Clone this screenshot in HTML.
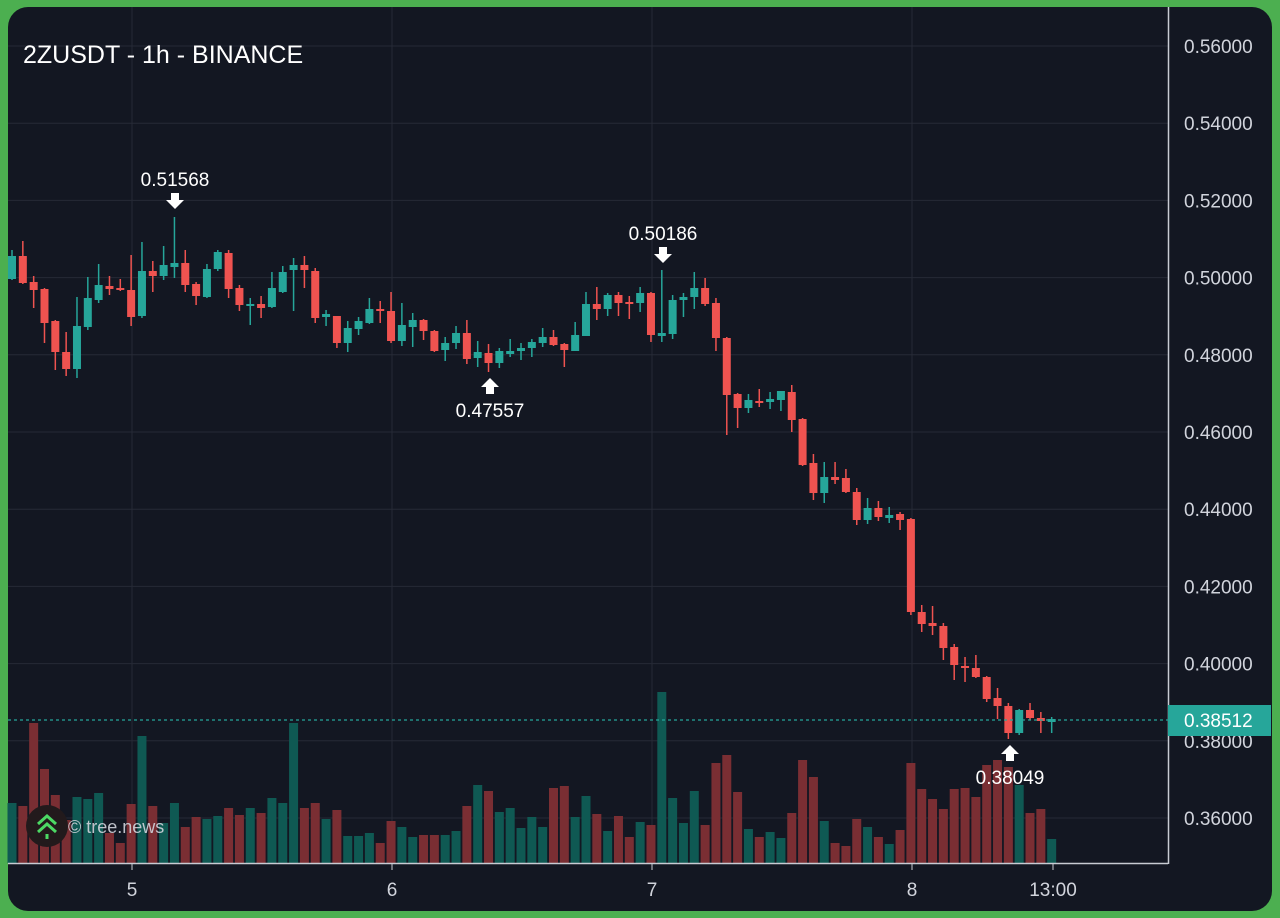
<!DOCTYPE html>
<html><head><meta charset="utf-8"><style>
html,body{margin:0;padding:0;background:#4caf50;width:1280px;height:918px;overflow:hidden}
svg{display:block}
text{font-family:"Liberation Sans",sans-serif}
</style></head><body>
<svg id="s" width="1280" height="918" xmlns="http://www.w3.org/2000/svg">
<rect x="0" y="0" width="1280" height="918" fill="#4caf50"/>
<rect x="8" y="7" width="1264" height="904" rx="20" fill="#131722"/>
<g id="grid" stroke="#262a36" stroke-width="1"></g>
<g id="vol"></g>
<g id="cand"></g>
<line x1="8" y1="863.5" x2="1168" y2="863.5" stroke="#c8cbd3" stroke-width="1.5"/>
<line x1="1168.5" y1="7" x2="1168.5" y2="864" stroke="#c8cbd3" stroke-width="1.5"/>
<line x1="8" y1="720" x2="1168" y2="720" stroke="#26a69a" stroke-width="1.2" stroke-dasharray="3,3"/>
<g id="ylab" fill="#d1d4dc" font-size="19"></g>
<g fill="#d1d4dc" font-size="19" text-anchor="middle">
<line x1="132" y1="864" x2="132" y2="870" stroke="#c8cbd3"/><text x="132" y="896">5</text>
<line x1="392" y1="864" x2="392" y2="870" stroke="#c8cbd3"/><text x="392" y="896">6</text>
<line x1="652" y1="864" x2="652" y2="870" stroke="#c8cbd3"/><text x="652" y="896">7</text>
<line x1="912" y1="864" x2="912" y2="870" stroke="#c8cbd3"/><text x="912" y="896">8</text>
<line x1="1053" y1="864" x2="1053" y2="870" stroke="#c8cbd3"/><text x="1053" y="896">13:00</text>
</g>
<rect x="1168" y="705" width="103" height="31" fill="#26a69a"/>
<text x="1184" y="727" fill="#ffffff" font-size="19">0.38512</text>
<text x="23" y="63" fill="#ffffff" font-size="25">2ZUSDT - 1h - BINANCE</text>
<g fill="#ffffff" font-size="19" text-anchor="middle">
<text x="175" y="186">0.51568</text>
<path d="M171 193h8v7h5l-9 9l-9-9h5z"/>
<text x="663" y="240">0.50186</text>
<path d="M659 247h8v7h5l-9 9l-9-9h5z"/>
<path d="M486 394h8v-7h5l-9-9l-9 9h5z"/>
<text x="490" y="417">0.47557</text>
<path d="M1006 761h8v-7h5l-9-9l-9 9h5z"/>
<text x="1010" y="784">0.38049</text>
</g>
<circle cx="47" cy="826" r="21" fill="#221a1c"/>
<path d="M38 824l9-8l9 8M38 832l9-8l9 8" stroke="#4cd964" stroke-width="3" fill="none"/>
<rect x="45.5" y="834" width="3" height="5" fill="#4cd964"/>
<text x="68" y="833" fill="#d1d4dc" font-size="18" opacity="0.9">© tree.news</text>
</svg>
<script>
var NS="http://www.w3.org/2000/svg";
function el(p,t,a){var e=document.createElementNS(NS,t);for(var k in a)e.setAttribute(k,a[k]);document.getElementById(p).appendChild(e);return e;}
for(var i=0;i<11;i++){var y=46+i*77.2;el("grid","line",{x1:8,x2:1168,y1:y,y2:y});
 var t=el("ylab","text",{x:1184,y:y+7});t.textContent=(0.56-i*0.02).toFixed(5);}
[132,392,652,912].forEach(function(x){el("grid","line",{x1:x,x2:x,y1:7,y2:863});});
var C=[[279,256,250,280],[256,283,241,284],[282,290,276,308],[289,323,288,343],[321,352,320,370],[352,369,332,376],[369,326,297,378],[327,298,277,330],[300,285,264,303],[286,289,276,295],[288,290,279,291],[290,317,255,326],[316,271,242,318],[271,276,261,292],[276,265,246,280],[267,263,217,278],[263,285,250,292],[284,296,282,305],[297,269,264,298],[269,252,250,271],[253,289,250,298],[288,305,285,311],[306,304,298,325],[304,308,296,318],[307,288,272,308],[292,272,266,293],[270,265,258,311],[265,270,256,288],[271,318,268,323],[316,315,310,326],[316,343,316,348],[343,328,321,352],[329,321,317,335],[323,309,298,324],[309,311,301,323],[311,341,292,343],[341,325,303,346],[327,320,313,347],[320,331,319,340],[331,351,330,352],[350,343,337,361],[343,333,326,349],[333,359,320,364],[358,352,341,367],[353,363,344,372],[363,351,348,368],[353,352,339,357],[351,348,343,360],[348,342,339,357],[343,337,328,347],[337,345,330,346],[344,350,343,367],[351,335,322,351],[336,304,292,336],[304,309,287,320],[309,295,293,316],[295,303,292,316],[302,304,296,319],[303,293,287,312],[293,335,292,342],[335,334,270,342],[334,300,295,339],[299,298,293,317],[297,288,272,309],[288,304,278,306],[303,338,298,351],[338,395,337,435],[394,408,393,428],[408,400,394,413],[401,403,389,407],[401,400,392,409],[400,391,391,411],[392,420,385,432],[419,465,418,466],[463,493,454,500],[493,477,462,503],[477,480,462,484],[478,492,469,493],[492,520,488,525],[520,508,498,524],[508,517,501,521],[517,516,507,523],[514,520,512,530],[519,612,518,615],[612,624,605,632],[623,626,606,635],[626,648,623,660],[647,665,644,680],[666,668,657,682],[668,677,655,678],[677,699,676,702],[698,706,688,719],[706,733,703,739],[733,710,709,735],[710,718,703,720],[718,721,712,733],[721,720,717,733]];
var V=[803,806,723,769,795,820,797,799,793,833,843,804,736,806,823,803,827,817,819,816,808,815,808,813,798,803,723,808,803,819,810,836,836,833,843,821,827,837,835,835,835,831,806,785,791,812,808,828,817,827,788,786,817,796,814,831,816,837,822,825,692,798,823,791,825,763,755,792,829,837,832,838,813,760,777,821,843,846,819,827,837,844,830,763,789,799,809,789,788,797,765,760,767,785,813,809,839];
for(var i=0;i<C.length;i++){var x=12+i*10.83,c=C[i],up=c[1]<c[0]||(c[1]==c[0]&&i%2==0);
 var col=up?"#26a69a":"#ef5350";
 var vc=up?"#0f5953":"#7a2e33";
 el("vol","rect",{x:x-4.5,y:V[i],width:9,height:863-V[i],fill:vc});
 el("cand","line",{x1:x,x2:x,y1:c[2],y2:c[3],stroke:col,"stroke-width":1.5});
 var t=Math.min(c[0],c[1]),b=Math.max(c[0],c[1]);if(b-t<2){t-=1;b+=1;}
 el("cand","rect",{x:x-4,y:t,width:8,height:b-t,fill:col});}
</script>
</body></html>
